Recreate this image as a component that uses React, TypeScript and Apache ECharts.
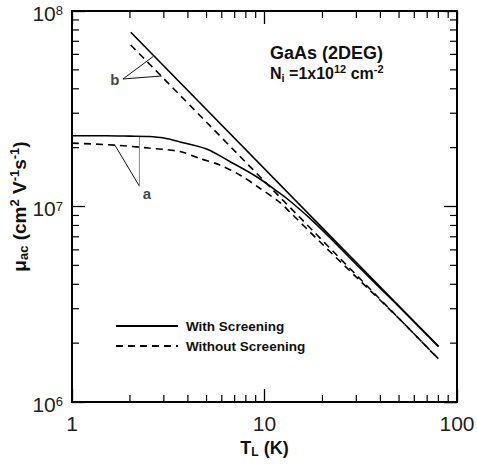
import React, { useEffect, useRef } from 'react';
import * as echarts from 'echarts';

// Curve "a" (with / without screening)
const T_A_SOLID = [1, 1.5, 2, 2.5, 3, 3.64, 5, 6.6, 9.1, 12, 13.5, 17, 21.8, 30, 50, 80];
const MU_A_SOLID = [2.3e7, 2.3e7, 2.29e7, 2.28e7, 2.24e7, 2.14e7, 1.97e7, 1.7e7, 1.42e7, 1.17e7, 1.07e7, 8.8e6, 6.95e6, 5.05e6, 3.07e6, 1.93e6];
const T_A_DASH = [1, 1.67, 2.5, 3.64, 4.62, 5.86, 7.44, 9.45, 12, 13.5, 19.4, 30, 50, 80];
const MU_A_DASH = [2.11e7, 2.06e7, 1.99e7, 1.91e7, 1.76e7, 1.63e7, 1.45e7, 1.24e7, 1.05e7, 9.4e6, 6.6e6, 4.35e6, 2.67e6, 1.66e6];
// Curve "b" (straight power laws)
const T_B = [2.02, 80.3];
const MU_B_SOLID = [7.78e7, 1.92e6];
const MU_B_DASH = [6.7e7, 1.66e6];

// Annotation leaders (data coordinates)
const LEADER_B = [[2.64, 5.85e7], [1.84, 4.49e7], [2.92, 4.65e7]];
const LEADER_A = [[1.67, 2.06e7], [2.24, 1.27e7]];
const LEADER_A_VERT = [[2.24, 1.27e7], [2.24, 2.28e7]];
const LABEL_B = [1.67, 4.44e7];
const LABEL_A = [2.45, 1.16e7];

const MINOR_X = [2, 3, 4, 5, 6, 7, 8, 9, 20, 30, 40, 50, 60, 70, 80, 90];
const MINOR_Y = [2e6, 3e6, 4e6, 5e6, 6e6, 7e6, 8e6, 9e6, 2e7, 3e7, 4e7, 5e7, 6e7, 7e7, 8e7, 9e7];

const X_MIN = 1, X_MAX = 100, Y_MIN = 1e6, Y_MAX = 1e8;
const LEGEND_WITH = 'With Screening';
const LEGEND_WITHOUT = 'Without Screening';

const FONT = '"Liberation Sans", Arial, sans-serif';

export default function App() {
  const ref = useRef<HTMLDivElement>(null);
  useEffect(() => {
    const chart = echarts.init(ref.current!, null, { renderer: 'svg' });
    const pair = (xs: number[], ys: number[]) => xs.map((x, i) => [x, ys[i]]);
    const solid = { color: '#000', width: 1.6, type: 'solid' };
    const dash = { color: '#000', width: 1.6, type: [7, 5] };
    const curve = (name: string, data: number[][], ls: any) => ({
      type: 'line', name, data, symbol: 'none', showSymbol: false,
      lineStyle: ls, itemStyle: { color: '#000' }, smooth: 0.3, z: 3, silent: true,
    });
    const leader = (name: string, data: number[][], color: string) => ({
      type: 'line', name, data, symbol: 'none', showSymbol: false,
      lineStyle: { color, width: 1 }, itemStyle: { color }, z: 2, silent: true,
    });
    const label = (name: string, pt: number[], txt: string) => ({
      type: 'scatter', name, data: [pt], symbolSize: 1, itemStyle: { color: 'rgba(0,0,0,0)' },
      label: { show: true, position: 'inside', formatter: txt, fontFamily: FONT, fontWeight: 'bold', fontSize: 15, color: '#111' },
      silent: true,
    });
    const tickData = [
      ...MINOR_X.map((v) => [v, Y_MIN, 0]),
      ...MINOR_Y.map((v) => [X_MIN, v, 1]),
    ];
    const ML = 7;
    const axisCommon = {
      type: 'log', logBase: 10,
      axisLine: { show: true, onZero: false, lineStyle: { color: '#000', width: 2 } },
      axisTick: { show: true, inside: true, length: 13, lineStyle: { color: '#000', width: 1.3 } },
      splitLine: { show: false },
      minorTick: { show: false },
    };
    const tickLabelRich = {
      base: { fontFamily: FONT, fontSize: 21, color: '#222', lineHeight: 18 },
      sup: { fontFamily: FONT, fontSize: 13, color: '#222', verticalAlign: 'top', lineHeight: 13 },
    };
    const titleRich = {
      b: { fontFamily: FONT, fontWeight: 'bold', fontSize: 19, color: '#111', lineHeight: 22 },
      sub: { fontFamily: FONT, fontWeight: 'bold', fontSize: 13, color: '#111', verticalAlign: 'bottom', lineHeight: 13 },
      sup: { fontFamily: FONT, fontWeight: 'bold', fontSize: 13, color: '#111', verticalAlign: 'top', lineHeight: 13 },
    };
    chart.setOption({
      animation: false,
      backgroundColor: '#fff',
      grid: { left: 72, right: 20, top: 11, bottom: 62, containLabel: false, outerBoundsMode: 'none' },
      legend: {
        data: [LEGEND_WITH, LEGEND_WITHOUT],
        orient: 'vertical', left: 110, top: 314,
        itemWidth: 62, itemHeight: 14, itemGap: 6,
        itemStyle: { opacity: 0, borderWidth: 0 },
        textStyle: { fontFamily: FONT, fontWeight: 'bold', fontSize: 13.5, color: '#111', padding: [0, 0, 0, 3] },
        selectedMode: false,
      },
      xAxis: [
        {
          ...axisCommon, position: 'bottom', min: X_MIN, max: X_MAX,
          axisLabel: { fontFamily: FONT, fontSize: 21, color: '#222', margin: 11 },
          name: '{b|T}{sub|L}{b| (K)}', nameLocation: 'middle', nameGap: 36,
          nameMoveOverlap: false,
          nameTextStyle: {
            rich: {
              b: { fontFamily: FONT, fontWeight: 'bold', fontSize: 18, color: '#111', lineHeight: 20 },
              sub: { fontFamily: FONT, fontWeight: 'bold', fontSize: 12, color: '#111', verticalAlign: 'bottom', lineHeight: 12 },
            },
          },
        },
        {
          ...axisCommon, position: 'top', min: X_MIN, max: X_MAX,
          axisLabel: { show: false },
        },
      ],
      yAxis: [
        {
          ...axisCommon, position: 'left', min: Y_MIN, max: Y_MAX,
          axisLabel: {
            margin: 9,
            padding: [4, 0, 0, 0],
            formatter: (v: number) => '{base|10}{sup|' + Math.round(Math.log10(v)) + '}',
            rich: tickLabelRich,
          },
          name: '{b|μ}{sub|ac}{b| (cm}{sup|2}{b| V}{sup|-1}{b|s}{sup|-1}{b|)}',
          nameLocation: 'middle', nameGap: 42, nameRotate: 90,
          nameMoveOverlap: false,
          nameTextStyle: { rich: titleRich },
        },
        {
          ...axisCommon, position: 'right', min: Y_MIN, max: Y_MAX,
          axisLabel: { show: false },
        },
      ],
      graphic: [
        {
          type: 'text', left: 270, top: 44,
          style: { text: 'GaAs (2DEG)', font: 'bold 18px ' + FONT, fill: '#111' },
        },
        {
          type: 'text', left: 270, top: 63,
          style: {
            text: '{b|N}{sub|i}{b| =1x10}{sup|12}{b| cm}{sup|-2}',
            rich: {
              b: { fontFamily: FONT, fontWeight: 'bold', fontSize: 16, fill: '#111', lineHeight: 20 },
              sub: { fontFamily: FONT, fontWeight: 'bold', fontSize: 11, fill: '#111', verticalAlign: 'bottom', lineHeight: 11 },
              sup: { fontFamily: FONT, fontWeight: 'bold', fontSize: 11, fill: '#111', verticalAlign: 'top', lineHeight: 11 },
            },
          },
        },
      ],
      series: [
        curve(LEGEND_WITH, pair(T_A_SOLID, MU_A_SOLID), solid),
        curve(LEGEND_WITHOUT, pair(T_A_DASH, MU_A_DASH), dash),
        curve(LEGEND_WITH, pair(T_B, MU_B_SOLID), solid),
        curve(LEGEND_WITHOUT, pair(T_B, MU_B_DASH), dash),
        leader('leaderB', LEADER_B, '#111'),
        leader('leaderA', LEADER_A, '#111'),
        leader('leaderAV', LEADER_A_VERT, '#888'),
        label('labelB', LABEL_B, 'b'),
        label('labelA', LABEL_A, 'a'),
        {
          type: 'custom', name: 'minorTicks', data: tickData, silent: true, clip: false, z: 5,
          encode: { x: 0, y: 1 },
          renderItem: (params: any, api: any) => {
            const kind = api.value(2);
            const st = { stroke: '#000', lineWidth: 1.2 };
            if (kind === 0) {
              const v = api.value(0);
              const b = api.coord([v, Y_MIN]);
              const t = api.coord([v, Y_MAX]);
              return {
                type: 'group', children: [
                  { type: 'line', shape: { x1: b[0], y1: b[1], x2: b[0], y2: b[1] - ML }, style: st },
                  { type: 'line', shape: { x1: t[0], y1: t[1], x2: t[0], y2: t[1] + ML }, style: st },
                ],
              };
            }
            const v = api.value(1);
            const l = api.coord([X_MIN, v]);
            const r = api.coord([X_MAX, v]);
            return {
              type: 'group', children: [
                { type: 'line', shape: { x1: l[0], y1: l[1], x2: l[0] + ML, y2: l[1] }, style: st },
                { type: 'line', shape: { x1: r[0], y1: r[1], x2: r[0] - ML, y2: r[1] }, style: st },
              ],
            };
          },
        },
      ],
    });
    return () => chart.dispose();
  }, []);
  return <div ref={ref} style={{ position: 'fixed', left: 0, top: 0, width: 477, height: 464, background: '#fff' }} />;
}
